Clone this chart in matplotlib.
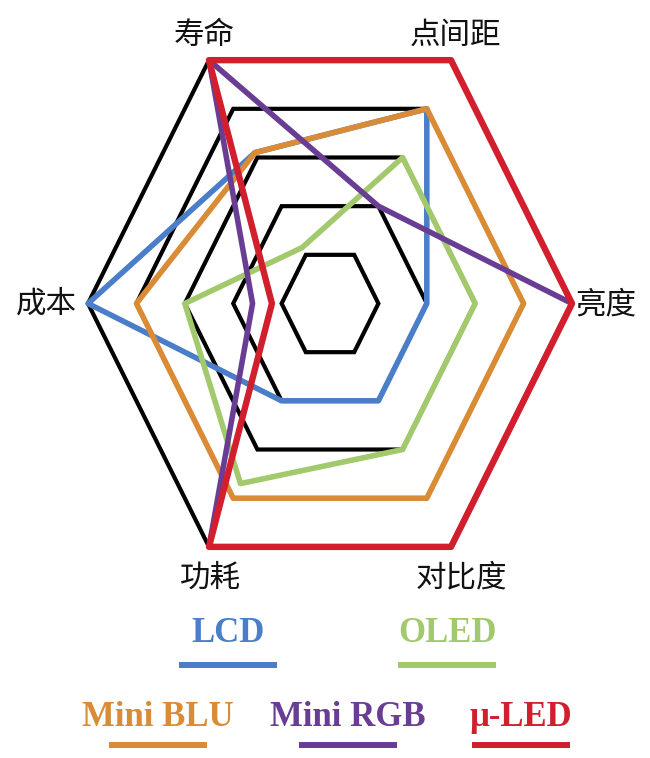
import matplotlib
matplotlib.use("Agg")
import matplotlib.pyplot as plt
import numpy as np
from matplotlib.patches import Polygon
from matplotlib.lines import Line2D

# axes go round anticlockwise from the right-hand vertex
AXES = ["亮度", "点间距", "寿命", "成本", "功耗", "对比度"]
ANGLES = [0, 60, 120, 180, 240, 300]
GRID_LEVELS = [1, 2, 3, 4, 5]
RMAX = 5

SERIES = ["LCD", "OLED", "Mini BLU", "Mini RGB", "μ-LED"]
COLORS = ["#4a7ec8", "#a2c96c", "#d98b36", "#6a3d94", "#d21f2e"]
#              亮度 点间距 寿命  成本  功耗  对比度
LCD =       [2.0, 4.0, 3.1, 5.0, 2.0, 2.0]
OLED =      [3.0, 3.0, 1.15, 3.0, 3.7, 3.0]
MINI_BLU =  [4.0, 4.0, 3.1, 4.0, 4.0, 4.0]
MINI_RGB =  [5.0, 2.0, 5.0, 1.6, 5.0, 5.0]
MICRO_LED = [5.0, 5.0, 5.0, 1.2, 5.0, 5.0]
VALUES = [LCD, OLED, MINI_BLU, MINI_RGB, MICRO_LED]

W, H = 650, 758
CX, CY = 330, 303.5          # centre of the hexagon, px from top-left
SX, SY = 242, 281            # px per unit radius (picture is stretched vertically)

CJK = ["Noto Sans CJK SC", "DejaVu Sans"]


def xy(vals):
    th = np.radians(ANGLES)
    r = np.asarray(vals, float) / RMAX
    return np.column_stack([r * np.cos(th), r * np.sin(th)])


fig = plt.figure(figsize=(W / 100, H / 100), dpi=100)
ax = fig.add_axes([0, 0, 1, 1])
ax.set_xlim(-CX / SX, (W - CX) / SX)
ax.set_ylim((CY - H) / SY, CY / SY)
ax.axis("off")

for lev in GRID_LEVELS:
    ax.add_patch(Polygon(xy([lev] * 6), closed=True, fill=False, ec="black",
                         lw=3, joinstyle="miter", zorder=1))

z = {"LCD": 2, "OLED": 3, "Mini BLU": 4, "Mini RGB": 5, "μ-LED": 6}
for name, vals, col in zip(SERIES, VALUES, COLORS):
    ax.add_patch(Polygon(xy(vals), closed=True, fill=False, ec=col,
                         lw=4.6 if name == "μ-LED" else 4,
                         joinstyle="round", zorder=z[name]))

# axis labels, offsets in px from the outer vertex
lab_off = {"亮度": (3, -1, "left"), "点间距": (4, 25, "center"), "寿命": (-5, 25, "center"),
           "成本": (-11, -1, "right"), "功耗": (1, -31, "center"), "对比度": (10, -31, "center")}
outer = xy([RMAX] * 6)
for name, (px, py) in zip(AXES, outer):
    dx, dy, ha = lab_off[name]
    ax.annotate(name, (px, py), xytext=(dx, dy), textcoords="offset pixels",
                ha=ha, va="center", fontsize=22, family=CJK, color="#111111")

# legend: coloured label with a bar underneath
leg_pos = {"LCD": (228, 633, 665), "OLED": (447, 633, 665),
           "Mini BLU": (158, 718, 745), "Mini RGB": (348, 718, 745), "μ-LED": (521, 718, 745)}
for name, col in zip(SERIES, COLORS):
    x, ty, ly = leg_pos[name]
    fig.text(x / W, 1 - ty / H, name, ha="center", va="center", fontsize=25,
             family="Liberation Serif", weight="bold", color=col)
    fig.add_artist(Line2D([(x - 49) / W, (x + 49) / W], [1 - ly / H] * 2,
                          transform=fig.transFigure, color=col, lw=4.3,
                          solid_capstyle="butt"))

fig.savefig("out.png", dpi=100, facecolor="white")
